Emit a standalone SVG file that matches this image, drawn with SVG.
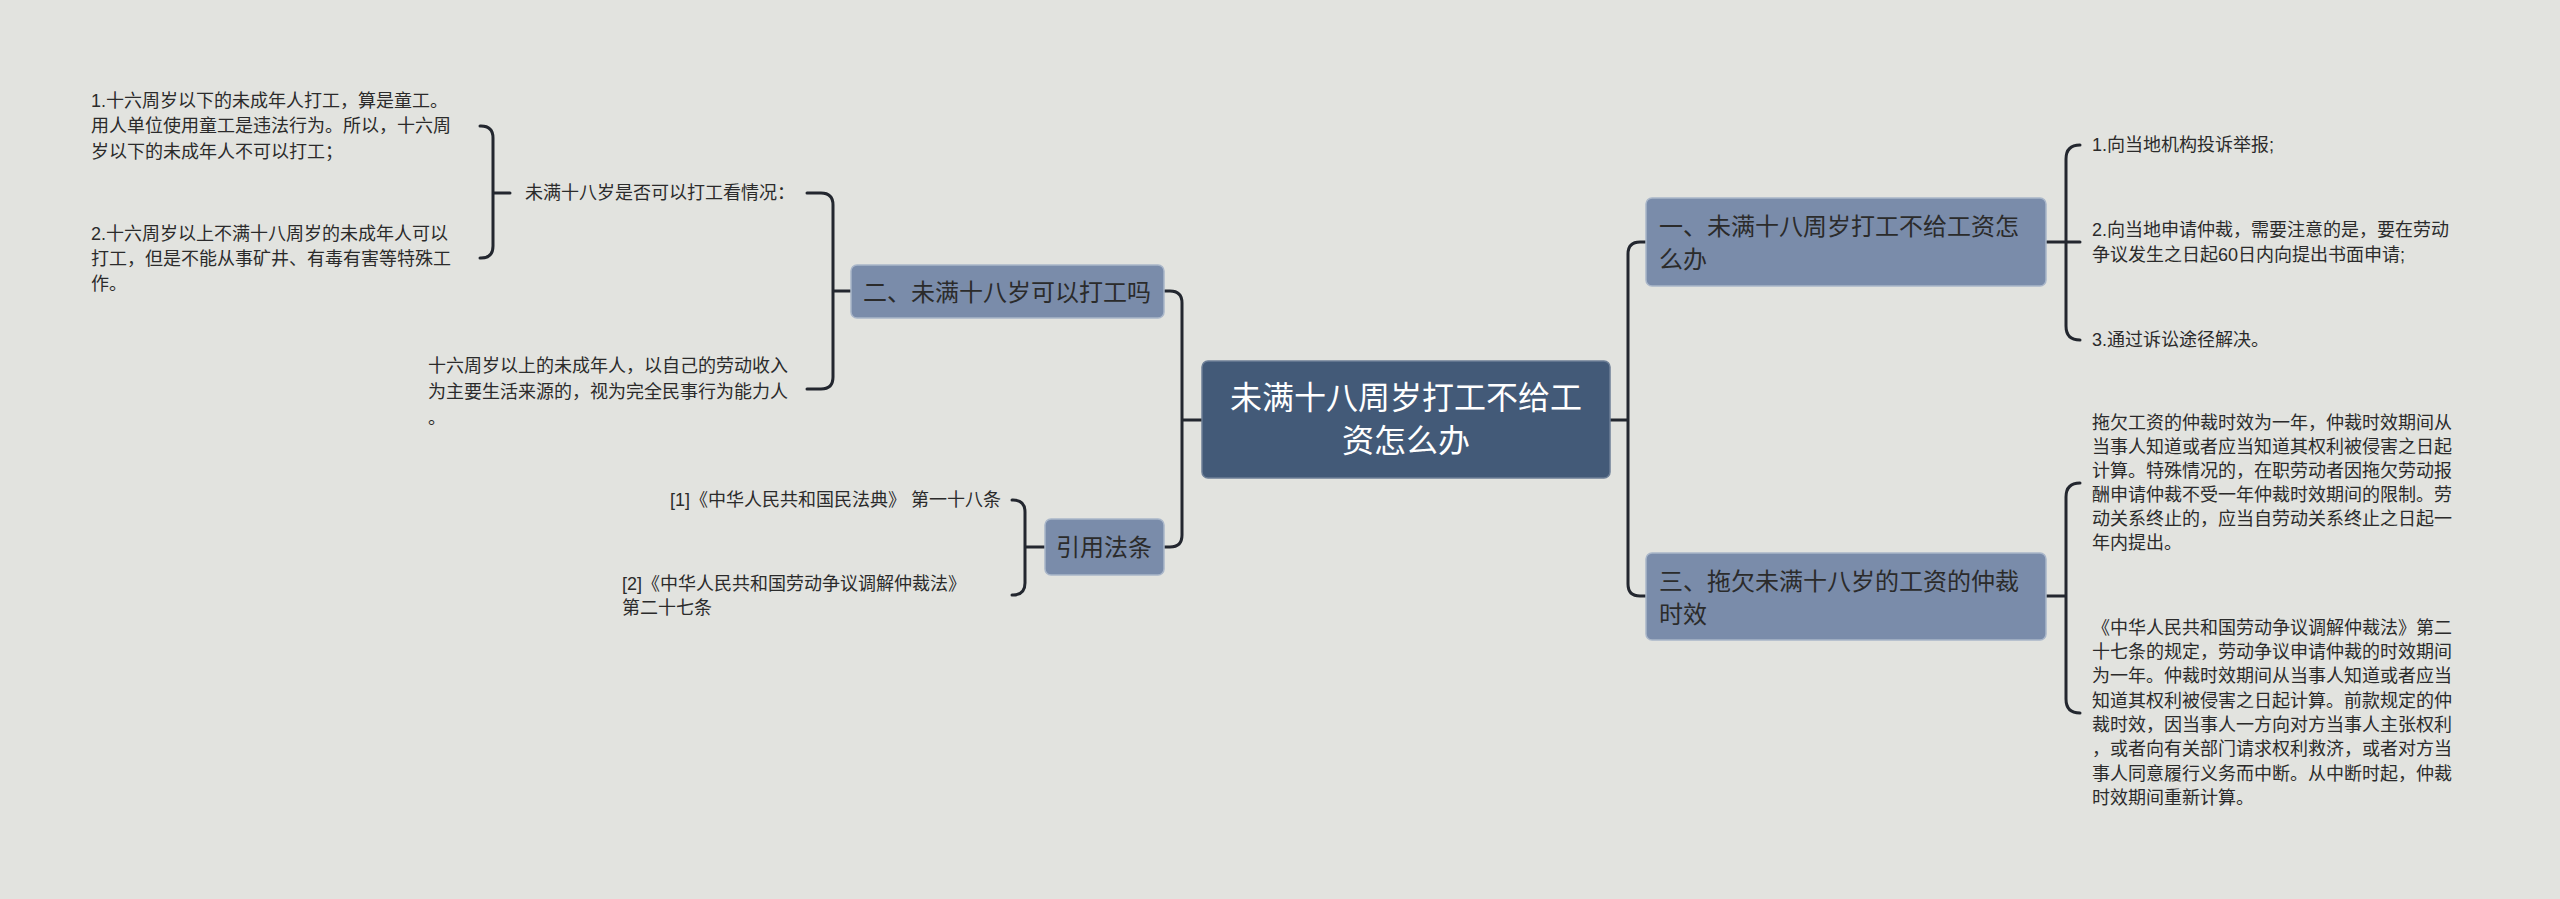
<svg xmlns="http://www.w3.org/2000/svg" width="2560" height="899" viewBox="0 0 2560 899">
<style>
text{font-family:"Liberation Sans","Noto Sans CJK SC",sans-serif;dominant-baseline:central;fill:#2b2b2b}
.leaf{font-size:18px}
.n{font-size:24px}
.root{font-size:32px;fill:#ffffff}
.box{fill:#7a8caa;stroke:#a9b6c9;stroke-width:1.5}
.rbox{fill:#435a78;stroke:#6d7f97;stroke-width:1.5}
.c{fill:none;stroke:#23272f;stroke-width:3;stroke-linecap:round}
</style>
<rect width="2560" height="899" fill="#e2e3df"/>
<g id="connectors">
<path class="c" d="M1202,420 H1182 M1164,291 H1170 Q1182,291 1182,303 V535 Q1182,547 1170,547 H1164"/>
<path class="c" d="M1610,420 H1628 M1646,242 H1640 Q1628,242 1628,254 V584 Q1628,596 1640,596 H1646"/>
<path class="c" d="M2046,242 H2066 M2080,145 Q2066,145 2066,159 V326 Q2066,340 2080,340 M2066,242 H2080"/>
<path class="c" d="M2046,596 H2066 M2080,483 Q2066,483 2066,497 V699 Q2066,713 2080,713"/>
<path class="c" d="M851,291 H833 M807,193 H821 Q833,193 833,205 V377 Q833,389 821,389 H807"/>
<path class="c" d="M510,193 H493 M480,126 H481 Q493,126 493,138 V246 Q493,258 481,258 H480"/>
<path class="c" d="M1045,547 H1025 M1012,500 H1013 Q1025,500 1025,512 V583 Q1025,595 1013,595 H1012"/>
</g>
<g id="root"><rect class="rbox" x="1202" y="361" width="408" height="117" rx="6"/>
<text class="root" x="1406" y="398" text-anchor="middle">未满十八周岁打工不给工</text>
<text class="root" x="1406" y="441" text-anchor="middle">资怎么办</text></g>
<g id="n1"><rect class="box" x="1646" y="198" width="400" height="88" rx="6"/>
<text class="n" x="1659" y="226">一、未满十八周岁打工不给工资怎</text>
<text class="n" x="1659" y="259">么办</text></g>
<g id="n3"><rect class="box" x="1646" y="553" width="400" height="87" rx="6"/>
<text class="n" x="1659" y="581">三、拖欠未满十八岁的工资的仲裁</text>
<text class="n" x="1659" y="614">时效</text></g>
<g id="n2"><rect class="box" x="851" y="265" width="313" height="53" rx="6"/>
<text class="n" x="1007" y="292" text-anchor="middle">二、未满十八岁可以打工吗</text></g>
<g id="ref"><rect class="box" x="1045" y="519" width="119" height="56" rx="6"/>
<text class="n" x="1104" y="547" text-anchor="middle">引用法条</text></g>
<g id="l1a"><text class="leaf" x="2092" y="145">1.向当地机构投诉举报;</text></g>
<g id="l1b"><text class="leaf" x="2092" y="230">2.向当地申请仲裁，需要注意的是，要在劳动</text>
<text class="leaf" x="2092" y="255">争议发生之日起60日内向提出书面申请;</text></g>
<g id="l1c"><text class="leaf" x="2092" y="340">3.通过诉讼途径解决。</text></g>
<g id="l3a" class="leaf">
<text x="2092" y="423">拖欠工资的仲裁时效为一年，仲裁时效期间从</text>
<text x="2092" y="447">当事人知道或者应当知道其权利被侵害之日起</text>
<text x="2092" y="471">计算。特殊情况的，在职劳动者因拖欠劳动报</text>
<text x="2092" y="495">酬申请仲裁不受一年仲裁时效期间的限制。劳</text>
<text x="2092" y="519">动关系终止的，应当自劳动关系终止之日起一</text>
<text x="2092" y="543">年内提出。</text></g>
<g id="l3b" class="leaf">
<text x="2092" y="628">《中华人民共和国劳动争议调解仲裁法》第二</text>
<text x="2092" y="652">十七条的规定，劳动争议申请仲裁的时效期间</text>
<text x="2092" y="676">为一年。仲裁时效期间从当事人知道或者应当</text>
<text x="2092" y="701">知道其权利被侵害之日起计算。前款规定的仲</text>
<text x="2092" y="725">裁时效，因当事人一方向对方当事人主张权利</text>
<text x="2092" y="749">，或者向有关部门请求权利救济，或者对方当</text>
<text x="2092" y="774">事人同意履行义务而中断。从中断时起，仲裁</text>
<text x="2092" y="798">时效期间重新计算。</text></g>
<g id="l2a"><text class="leaf" x="795" y="193" text-anchor="end">未满十八岁是否可以打工看情况：</text></g>
<g id="l2b" class="leaf">
<text x="428" y="366">十六周岁以上的未成年人，以自己的劳动收入</text>
<text x="428" y="392">为主要生活来源的，视为完全民事行为能力人</text>
<text x="428" y="418">。</text></g>
<g id="l2a1" class="leaf">
<text x="91" y="101">1.十六周岁以下的未成年人打工，算是童工。</text>
<text x="91" y="126">用人单位使用童工是违法行为。所以，十六周</text>
<text x="91" y="152">岁以下的未成年人不可以打工；</text></g>
<g id="l2a2" class="leaf">
<text x="91" y="234">2.十六周岁以上不满十八周岁的未成年人可以</text>
<text x="91" y="259">打工，但是不能从事矿井、有毒有害等特殊工</text>
<text x="91" y="284">作。</text></g>
<g id="r1"><text class="leaf" x="1001" y="500" text-anchor="end">[1]《中华人民共和国民法典》 第一十八条</text></g>
<g id="r2" class="leaf">
<text x="622" y="584">[2]《中华人民共和国劳动争议调解仲裁法》</text>
<text x="622" y="608">第二十七条</text></g>
</svg>
